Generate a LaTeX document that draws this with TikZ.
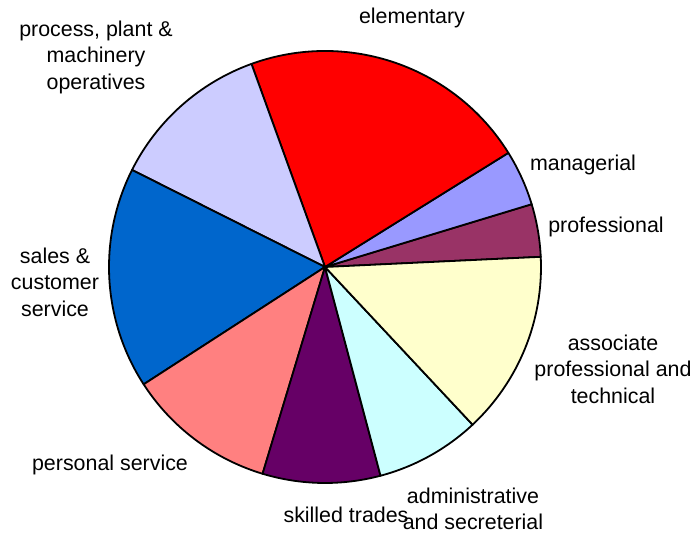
\documentclass[tikz,border=0pt]{standalone}
\usepackage{fontspec}
\setmainfont{Liberation Sans}
\begin{document}
\begin{tikzpicture}[x=1pt,y=1pt,
  slice/.style={draw=black,line width=1.8pt,line join=round},
  lbl/.style={font=\fontsize{21.4}{26.5}\selectfont,align=center,inner sep=0pt}]
\useasboundingbox (0,0) rectangle (694,535);
\definecolor{cElem}{HTML}{FF0000}
\definecolor{cMan}{HTML}{9999FF}
\definecolor{cProf}{HTML}{993366}
\definecolor{cAssoc}{HTML}{FFFFCC}
\definecolor{cAdmin}{HTML}{CCFFFF}
\definecolor{cSkill}{HTML}{660066}
\definecolor{cPers}{HTML}{FF8080}
\definecolor{cSales}{HTML}{0066CC}
\definecolor{cProc}{HTML}{CCCCFF}
\coordinate (ctr) at (325,268);
\def\R{216}
\foreach \a/\b/\c in {2.7/16.9/cProf, 16.9/31.9/cMan, 31.9/109.9/cElem, 109.9/153.3/cProc, 153.3/212.9/cSales, 212.9/253.2/cPers, 253.2/284.9/cSkill, 284.9/313.1/cAdmin, 313.1/362.7/cAssoc}{
  \draw[slice,fill=\c] (ctr) -- ++(\a:\R) arc[start angle=\a,end angle=\b,radius=\R] -- cycle;
}
\node[lbl] (elem) at (412,517) {elementary};
\node[lbl] (man) at (583,370) {managerial};
\node[lbl] (prof) at (606,308) {professional};
\node[lbl] (assoc) at (613,166) {associate\\professional and\\technical};
\node[lbl] (admin) at (473,26) {administrative\\and secreterial};
\node[lbl] (skill) at (346,20) {skilled trades};
\node[lbl] (pers) at (110,70) {personal service};
\node[lbl] (sales) at (55,253) {sales \&\\customer\\service};
\node[lbl] (proc) at (96,478) {process, plant \&\\machinery\\operatives};
\end{tikzpicture}
\end{document}
